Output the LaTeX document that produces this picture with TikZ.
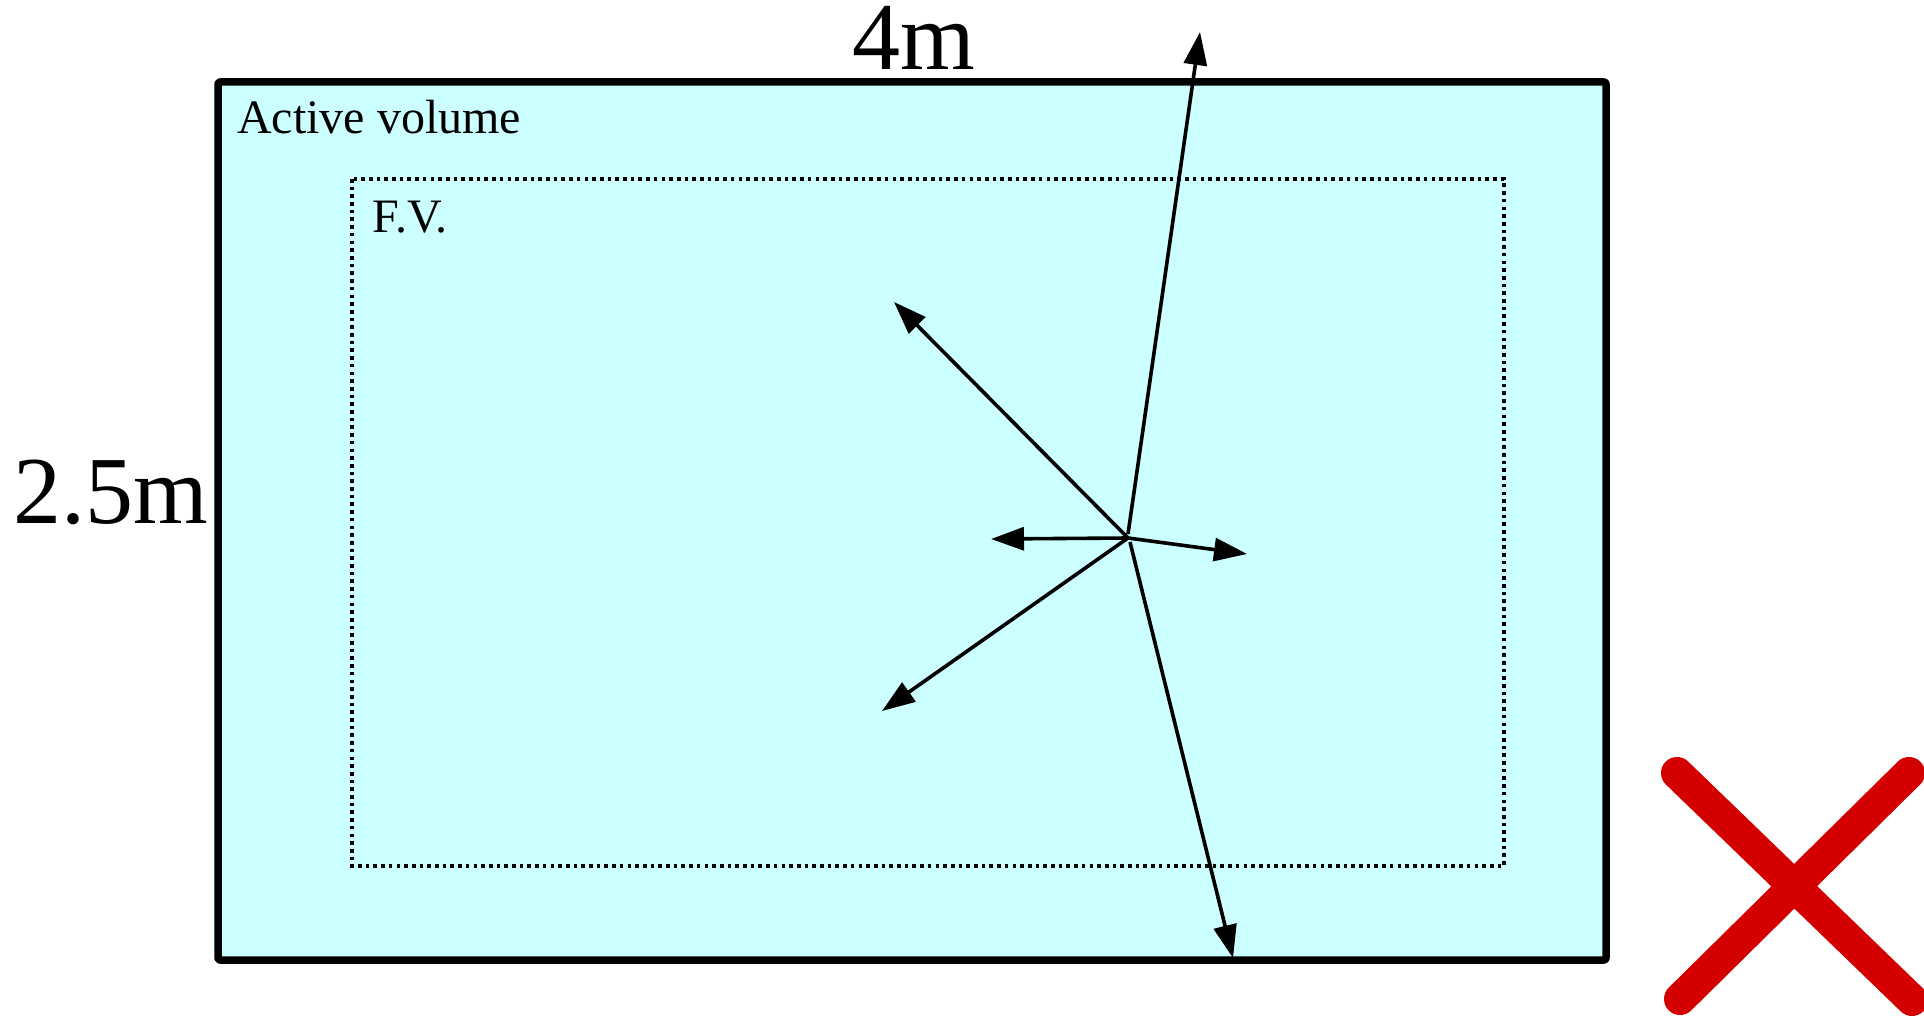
\documentclass[tikz,border=0pt]{standalone}
\usepackage{fontspec}
\setmainfont{Liberation Serif}
\usetikzlibrary{arrows.meta}
\definecolor{avfill}{HTML}{CCFFFF}
\definecolor{xred}{HTML}{D40000}
\tikzset{
  outerbox/.style={draw=black, fill=avfill, line width=7.5pt, rounded corners=2pt, line join=round},
  fvbox/.style={draw=black, line width=3.6pt, dash pattern=on 3.6pt off 4.1pt},
  track/.style={draw=black, line width=3.6pt, -{Triangle[length=33pt,width=23pt]}},
  smalllabel/.style={font=\fontsize{48}{58}\selectfont, inner sep=0pt, anchor=base west},
  biglabel/.style={font=\fontsize{96}{110}\selectfont, inner sep=0pt, anchor=base west},
  crossline/.style={draw=xred, line width=32pt, line cap=round}
}
\begin{document}
\begin{tikzpicture}[x=1pt, y=-1pt]
  \useasboundingbox (0,0) rectangle (1924,1016);
  \clip (0,0) rectangle (1924,1016);
  % active volume
  \draw[outerbox] (218,82) rectangle (1606,960);
  % fiducial volume
  \draw[fvbox] (352,179) rectangle (1504,866);
  \node[smalllabel] (av) at (237,134) {Active volume};
  \node[smalllabel] (fv) at (372,233) {F.V.};
  \node[biglabel] (four) at (852,70) {4m};
  \node[biglabel] (twofive) at (13,523) {2.5m};
  % vertex and tracks
  \coordinate (c) at (1128,538);
  \coordinate (cu) at (1128,534);
  \coordinate (cd) at (1130,542);
  \coordinate (tup) at (1200,32);
  \coordinate (tdown) at (1233,958);
  \coordinate (tleft) at (991,539);
  \coordinate (tright) at (1247,554);
  \coordinate (tul) at (894,302);
  \coordinate (tdl) at (882,711);
  \draw[track] (cu) -- (tup);
  \draw[track] (cd) -- (tdown);
  \draw[track] (c) -- (tleft);
  \draw[track] (c) -- (tright);
  \draw[track] (c) -- (tul);
  \draw[track] (c) -- (tdl);
  % red cross
  \coordinate (x1a) at (1677,773);
  \coordinate (x1b) at (1912,1000);
  \coordinate (x2a) at (1909,773);
  \coordinate (x2b) at (1680,999);
  \draw[crossline] (x1a) -- (x1b);
  \draw[crossline] (x2a) -- (x2b);
\end{tikzpicture}
\end{document}
